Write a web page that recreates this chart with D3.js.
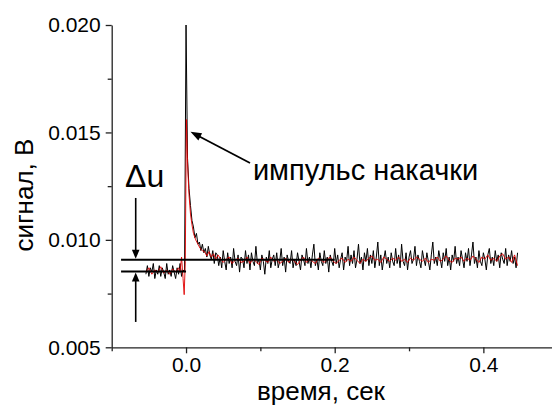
<!DOCTYPE html>
<html><head><meta charset="utf-8">
<script src="https://cdn.jsdelivr.net/npm/d3@7"></script>
<style>
body{margin:0;background:#fff}
svg{display:block}
text{font-family:"Liberation Sans",Arial,Helvetica,sans-serif}
</style>
</head><body>
<svg id="c" width="552" height="405"></svg>
<script>
// ---- data (signal in mV, time in s) ----
const blackT0 = -0.054, blackDt = 0.002;
const blackValues = [
  8.4, 8.8, 8.3, 8.7, 8.5, 8.9, 8.2, 8.6, 8.4, 8.8, 8.3, 8.7, 8.5, 8.2, 8.9, 8.4, 8.6, 8.3, 8.8, 8.5, 8.2, 8.7, 8.4, 8.9, 8.3, 8.6, 8.5,
  20.0, 13.8, 12.4, 11.6, 10.9, 10.6, 10.1, 10.3, 9.8, 9.9, 9.5, 9.8, 9.4, 9.6, 9.2, 9.7, 9.3, 9.1, 9.5, 8.9, 9.4,
  9.3, 8.8, 9.2, 8.7, 9.5, 9.0, 8.6, 9.4, 8.9, 9.2,
  8.7, 9.6, 9.0, 8.8, 9.3, 8.5, 9.2, 9.1, 8.7, 9.5,
  8.9, 9.3, 8.6, 9.4, 9.0, 8.8, 9.7, 8.9, 9.1, 8.6,
  9.3, 9.0, 8.4, 9.2, 8.9, 9.5, 8.7, 9.1, 9.3, 8.8,
  9.4, 8.7, 9.0, 9.6, 8.8, 9.2, 8.5, 9.3, 9.0, 8.9,
  9.5, 8.7, 9.1, 8.8, 9.4, 9.0, 8.6, 9.3, 9.1, 8.8,
  9.6, 8.9, 9.2, 8.7, 9.3, 9.8, 8.8, 9.1, 8.6, 9.4,
  9.0, 8.8, 9.5, 8.9, 9.2, 8.5, 9.3, 9.0, 8.8, 9.6,
  8.9, 9.3, 8.7, 9.1, 9.4, 8.6, 9.2, 9.0, 9.7, 8.8,
  9.3, 8.9, 9.5, 8.7, 9.1, 9.8, 8.9, 9.2, 8.6, 9.4,
  9.0, 9.6, 8.8, 9.3, 8.9, 9.5, 8.7, 9.2, 9.9, 8.8,
  9.3, 8.6, 9.1, 9.5, 8.9, 9.2, 8.7, 9.4, 9.0, 8.8,
  9.6, 8.9, 9.3, 8.7, 9.8, 9.0, 8.8, 9.4, 8.6, 9.2,
  9.5, 8.9, 9.1, 9.7, 8.8, 9.3, 9.0, 8.7, 9.5, 9.1,
  8.8, 9.4, 9.0, 8.6, 9.3, 9.9, 8.9, 9.2, 8.8, 9.5,
  9.1, 8.7, 9.4, 9.0, 9.6, 8.8, 9.2, 8.6, 9.3, 9.0,
  9.7, 8.9, 9.2, 8.8, 9.5, 9.1, 8.7, 9.4, 9.0, 9.6,
  8.8, 9.3, 9.9, 8.9, 9.2, 8.7, 9.5, 9.0, 8.8, 9.4,
  9.1, 8.6, 9.3, 9.6, 8.9, 9.2, 8.8, 9.5, 9.0, 9.3,
  8.7, 9.4, 9.1, 8.9, 9.6, 8.8, 9.3, 9.0, 9.5, 8.9,
  9.2, 8.7, 9.4
];
const redEarly = [
  [-0.054, 8.5], [-0.050, 8.7], [-0.046, 8.4], [-0.042, 8.6], [-0.038, 8.5], [-0.034, 8.75],
  [-0.030, 8.45], [-0.026, 8.6], [-0.022, 8.4], [-0.018, 8.65], [-0.014, 8.5], [-0.010, 8.7],
  [-0.008, 8.5], [-0.006, 9.2], [-0.004, 8.2], [-0.0025, 7.45], [-0.001, 9.0], [0.0005, 15.6],
  [0.002, 13.6], [0.004, 12.1], [0.006, 11.2], [0.008, 10.7], [0.010, 10.3], [0.013, 10.0],
  [0.016, 9.8], [0.019, 9.6], [0.022, 9.5], [0.025, 9.45], [0.028, 9.25], [0.031, 9.45],
  [0.034, 9.2], [0.037, 9.35], [0.040, 9.1], [0.043, 9.3]
];
const redTailT0 = 0.046, redTailDt = 0.004;
const redTail = [
  9.15, 8.95, 9.1, 9.2, 8.9, 9.05, 9.15, 8.95, 9.0, 9.2,
  8.9, 9.1, 9.0, 8.85, 9.15, 9.05, 8.95, 9.2, 9.0, 9.1,
  8.9, 9.0, 9.15, 8.95, 9.1, 9.0, 8.85, 9.05, 9.2, 8.95,
  9.1, 9.0, 8.9, 9.15, 9.05, 8.95, 9.1, 9.2, 9.0, 8.9,
  9.05, 9.15, 8.95, 9.1, 9.0, 9.2, 9.05, 8.9, 9.1, 9.0,
  9.15, 9.25, 9.05, 9.1, 8.95, 9.2, 9.1, 9.0, 9.15, 9.05,
  9.2, 9.0, 9.1, 8.95, 9.15, 9.05, 9.2, 9.1, 9.0, 9.15,
  8.95, 9.1, 9.05, 9.2, 9.0, 9.1, 9.25, 9.05, 8.95, 9.15,
  9.1, 9.2, 9.0, 9.15, 9.05, 9.25, 9.1, 8.95, 9.2, 9.1,
  9.3, 9.05, 9.15, 9.0, 9.25, 9.35, 9.1, 9.2, 8.95, 9.3, 8.8
];
const xTicks = [0.0, 0.2, 0.4];
const xTickLabels = ["0.0", "0.2", "0.4"];
const xMinorTicks = [-0.1, 0.1, 0.3, 0.5];
const yTicks = [5, 10, 15, 20];
const yTickLabels = ["0.005", "0.010", "0.015", "0.020"];
const yMinorTicks = [7.5, 12.5, 17.5];
const levelUpper = 9.07, levelLower = 8.53;
const xTitle = "время, сек", yTitle = "сигнал, В";
const annText = "импульс накачки", deltaText = "Δu";

// ---- layout ----
const svg = d3.select("#c");
const x = d3.scaleLinear().domain([-0.1, 0.5]).range([111.7, 557.7]);
const y = d3.scaleLinear().domain([5, 20]).range([347.3, 25]);
const axisColor = "#222";

const blackData = blackValues.map((v, i) => [blackT0 + i * blackDt, v]);
const redData = redEarly.concat(redTail.map((v, i) => [redTailT0 + i * redTailDt, v]));
const line = d3.line().x(d => x(d[0])).y(d => y(d[1]));

// black signal
svg.append("path").datum(blackData).attr("d", line)
  .attr("fill", "none").attr("stroke", "#000").attr("stroke-width", 1);
// red smoothed
svg.append("path").datum(redData).attr("d", line)
  .attr("fill", "none").attr("stroke", "#e00000").attr("stroke-width", 1).attr("stroke-opacity", 0.9);

// level lines
svg.append("line").attr("x1", x(-0.0874)).attr("x2", x(0.2)).attr("y1", y(levelUpper)).attr("y2", y(levelUpper))
  .attr("stroke", "#000").attr("stroke-width", 2);
svg.append("line").attr("x1", x(-0.0874)).attr("x2", x(0)).attr("y1", y(levelLower)).attr("y2", y(levelLower))
  .attr("stroke", "#000").attr("stroke-width", 2);

// arrow helper
function arrow(x1, y1, x2, y2, len, half, w) {
  const dx = x2 - x1, dy = y2 - y1, L = Math.hypot(dx, dy), ux = dx / L, uy = dy / L;
  const bx = x2 - ux * len, by = y2 - uy * len;
  svg.append("line").attr("x1", x1).attr("y1", y1).attr("x2", bx + ux * 2).attr("y2", by + uy * 2)
    .attr("stroke", "#000").attr("stroke-width", w);
  svg.append("path").attr("d", `M${x2},${y2}L${bx - uy * half},${by + ux * half}L${bx + uy * half},${by - ux * half}Z`)
    .attr("fill", "#000");
}
const ax = x(-0.0677);
arrow(ax, y(11.95), ax, y(levelUpper) - 1, 9, 3.8, 1.6);
arrow(ax, y(6.18), ax, y(levelLower) + 1, 9, 3.8, 1.6);
arrow(x(0.0861), y(13.58), x(0.006), y(15.03), 11, 4, 1.8);

// annotation texts
svg.append("text").attr("x", x(0.090)).attr("y", y(12.79)).attr("font-size", 29).attr("fill", "#000").text(annText);
svg.append("text").attr("x", x(-0.082)).attr("y", y(12.45)).attr("font-size", 32).attr("fill", "#000").text(deltaText);

// axes
const gx = svg.append("g").attr("transform", `translate(0,${y(5)})`);
gx.call(d3.axisBottom(x).tickValues(xTicks).tickFormat((d, i) => xTickLabels[i]).tickSize(6).tickSizeOuter(0).tickPadding(4));
const gxm = svg.append("g").attr("transform", `translate(0,${y(5)})`);
gxm.call(d3.axisBottom(x).tickValues(xMinorTicks).tickFormat("").tickSize(4).tickSizeOuter(0));
gxm.select(".domain").remove();

const gy = svg.append("g").attr("transform", `translate(${x(-0.1)},0)`);
gy.call(d3.axisLeft(y).tickValues(yTicks).tickFormat((d, i) => yTickLabels[i]).tickSize(6).tickSizeOuter(0).tickPadding(5));
const gym = svg.append("g").attr("transform", `translate(${x(-0.1)},0)`);
gym.call(d3.axisLeft(y).tickValues(yMinorTicks).tickFormat("").tickSize(4).tickSizeOuter(0));
gym.select(".domain").remove();

svg.selectAll(".domain").attr("stroke", axisColor).attr("stroke-width", 1.3);
svg.selectAll(".tick line").attr("stroke", axisColor).attr("stroke-width", 1.3);
gx.selectAll(".tick text").attr("font-size", 21).attr("fill", "#000").attr("font-family", "Liberation Sans, Arial, sans-serif");
gy.selectAll(".tick text").attr("font-size", 21).attr("fill", "#000").attr("font-family", "Liberation Sans, Arial, sans-serif");

// titles
svg.append("text").attr("x", 321).attr("y", 400).attr("text-anchor", "middle").attr("font-size", 26).attr("fill", "#000").text(xTitle);
svg.append("text").attr("transform", "translate(33,195) rotate(-90)").attr("text-anchor", "middle").attr("font-size", 26).attr("fill", "#000").text(yTitle);
</script>
</body></html>
